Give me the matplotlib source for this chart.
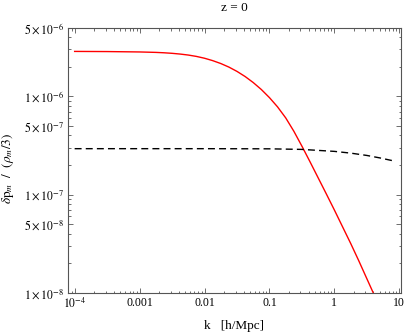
import matplotlib
matplotlib.use('Agg')
import matplotlib.pyplot as plt
from matplotlib.ticker import FixedLocator, LogLocator, NullFormatter

plt.rcParams['font.family'] = ['Liberation Serif', 'DejaVu Serif']
plt.rcParams['mathtext.fontset'] = 'stix'

# red curve: delta p_m / (rho_m/3)
k_red = [1e-4, 3.16e-4, 1e-3, 1.78e-3, 2.37e-3, 3.16e-3, 4.22e-3, 5.62e-3, 7.5e-3,
         0.01, 0.0133, 0.0178, 0.0237, 0.0316, 0.0422, 0.0562, 0.075,
         0.1, 0.133, 0.178, 0.237, 0.316, 0.422, 0.562, 0.75,
         1.0, 1.33, 1.78, 2.37, 3.16, 4.22]
p_red = [2.867e-6, 2.857e-6, 2.831e-6, 2.802e-6, 2.777e-6, 2.742e-6, 2.694e-6, 2.633e-6, 2.55e-6,
         2.443e-6, 2.312e-6, 2.158e-6, 1.986e-6, 1.795e-6, 1.591e-6, 1.382e-6, 1.173e-6,
         9.70e-7, 7.82e-7, 6.03e-7, 4.42e-7, 3.11e-7, 2.15e-7, 1.48e-7, 1.016e-7,
         6.95e-8, 4.72e-8, 3.18e-8, 2.12e-8, 1.39e-8, 9.1e-9]

# dashed reference curve
k_dash = [1e-4, 1e-3, 0.01, 0.1, 0.316, 1.0, 1.78, 3.16, 5.0, 7.9]
p_dash = [2.93e-7, 2.93e-7, 2.93e-7, 2.92e-7, 2.88e-7, 2.75e-7, 2.64e-7, 2.50e-7, 2.36e-7, 2.21e-7]

x_ticks = [1e-4, 1e-3, 1e-2, 1e-1, 1, 10]
x_labels = ['$10^{-4}$', '0.001', '0.01', '0.1', '1', '10']
y_ticks = [1e-8, 5e-8, 1e-7, 5e-7, 1e-6, 5e-6]
y_labels = [r'$1\times10^{-8}$', r'$5\times10^{-8}$', r'$1\times10^{-7}$',
            r'$5\times10^{-7}$', r'$1\times10^{-6}$', r'$5\times10^{-6}$']

fig = plt.figure(figsize=(4.05, 3.35), dpi=100)
ax = fig.add_axes([68/405, 1 - 292.7/335, (400.7-68)/405, (292.7-27.7)/335])

ax.plot(k_red, p_red, color='#ff0000', lw=1.0)
ax.plot(k_dash, p_dash, color='black', lw=1.0, dashes=(5, 3))

ax.set_xscale('log')
ax.set_yscale('log')
ax.set_xlim(7.9e-5, 10.5)
ax.set_ylim(1e-8, 5e-6)

ax.xaxis.set_major_locator(FixedLocator(x_ticks))
ax.set_xticklabels(x_labels)
ax.xaxis.set_minor_locator(LogLocator(base=10, subs=range(2, 10)))
ax.xaxis.set_minor_formatter(NullFormatter())
ax.yaxis.set_major_locator(FixedLocator(y_ticks))
ax.set_yticklabels(y_labels)
ax.yaxis.set_minor_locator(LogLocator(base=10, subs=range(2, 10)))
ax.yaxis.set_minor_formatter(NullFormatter())

frame = '#555555'
for s in ax.spines.values():
    s.set_color(frame)
    s.set_linewidth(0.8)
ax.tick_params(which='both', direction='in', top=True, right=True,
               color=frame, width=0.6, labelsize=8.5, pad=3)
ax.tick_params(which='major', length=3.5)
ax.tick_params(which='minor', length=1.8)

ax.set_title('z = 0', fontsize=9.5, pad=12)
ax.set_xlabel('k   [h/Mpc]', fontsize=9.5, labelpad=6)
ax.set_ylabel(r'$\delta\mathrm{p}_{m}\ \ /\ \ (\rho_{m}/3)$', fontsize=9.5)
ax.yaxis.set_label_coords(-0.155, 0.47)

fig.savefig('out.png', dpi=100)
